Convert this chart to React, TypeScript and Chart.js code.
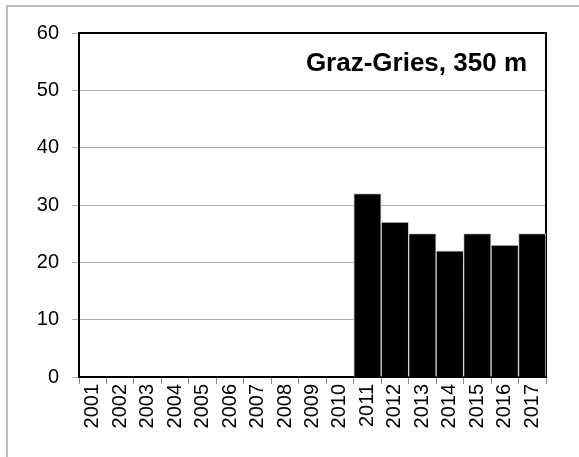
import React, { useEffect, useRef } from 'react';
import { Chart, registerables } from 'chart.js';

Chart.register(...registerables);

const years = ['2001', '2002', '2003', '2004', '2005', '2006', '2007', '2008', '2009', '2010', '2011', '2012', '2013', '2014', '2015', '2016', '2017'];
const values: (number | null)[] = [null, null, null, null, null, null, null, null, null, null, 32, 27, 25, 22, 25, 23, 25];
const yTicks = [0, 10, 20, 30, 40, 50, 60];
const stationTitle = 'Graz-Gries, 350 m';

const FONT = "'Liberation Sans', Arial, sans-serif";

const decorPlugin = {
  id: 'decor',
  beforeDraw(chart: any) {
    const ctx = chart.ctx;
    ctx.save();
    ctx.fillStyle = '#ffffff';
    ctx.fillRect(0, 0, chart.width, chart.height);
    ctx.strokeStyle = '#bdbdbd';
    ctx.lineWidth = 2;
    ctx.strokeRect(7, 6, chart.width + 20, chart.height + 20);
    ctx.restore();
  },
  beforeDatasetsDraw(chart: any) {
    const { ctx, chartArea } = chart;
    ctx.save();
    ctx.strokeStyle = '#000000';
    ctx.lineWidth = 2;
    ctx.beginPath();
    ctx.moveTo(chartArea.left, chartArea.top);
    ctx.lineTo(chartArea.right, chartArea.top);
    ctx.lineTo(chartArea.right, chartArea.bottom);
    ctx.stroke();
    ctx.restore();
  },
  afterDraw(chart: any) {
    const { ctx, chartArea } = chart;
    ctx.save();
    ctx.fillStyle = '#000000';
    ctx.font = `bold 26px ${FONT}`;
    ctx.textAlign = 'right';
    ctx.textBaseline = 'alphabetic';
    ctx.fillText(stationTitle, chartArea.right - 19, chartArea.top + 38);
    ctx.restore();
  },
};

export default function App() {
  const ref = useRef<HTMLCanvasElement | null>(null);

  useEffect(() => {
    if (!ref.current) return;
    const chart = new Chart(ref.current, {
      type: 'bar',
      data: {
        labels: years,
        datasets: [
          {
            data: values as any,
            backgroundColor: '#000000',
            borderColor: '#d0d0d0',
            borderWidth: 1,
            barPercentage: 1,
            categoryPercentage: 1,
          },
        ],
      },
      options: {
        animation: false,
        responsive: false,
        maintainAspectRatio: false,
        layout: { padding: { left: 0, top: 33, right: 33, bottom: 0 } },
        plugins: {
          legend: { display: false },
          tooltip: { enabled: false },
          title: { display: false },
        },
        scales: {
          x: {
            offset: true,
            grid: {
              offset: true,
              drawOnChartArea: false,
              drawTicks: true,
              tickLength: 7,
              color: '#8c8c8c',
            },
            border: { display: true, color: '#000000', width: 2 },
            ticks: {
              color: '#000000',
              font: { family: FONT, size: 20 },
              minRotation: 90,
              maxRotation: 90,
              autoSkip: false,
              padding: 0,
            },
            afterFit(scale: any) {
              scale.height = 80;
            },
          },
          y: {
            min: 0,
            max: 60,
            grid: {
              color: '#b0b0b0',
              lineWidth: 1,
              tickLength: 7,
              drawTicks: true,
            },
            border: { display: true, color: '#000000', width: 2 },
            ticks: {
              color: '#000000',
              font: { family: FONT, size: 20 },
              padding: 13,
            },
            afterBuildTicks(scale: any) {
              scale.ticks = yTicks.map((v) => ({ value: v }));
            },
            afterFit(scale: any) {
              scale.width = 79;
            },
          },
        },
      },
      plugins: [decorPlugin],
    });
    return () => chart.destroy();
  }, []);

  return (
    <div style={{ position: 'fixed', left: 0, top: 0, width: 579, height: 457 }}>
      <canvas ref={ref} width={579} height={457} style={{ display: 'block', width: 579, height: 457 }} />
    </div>
  );
}
